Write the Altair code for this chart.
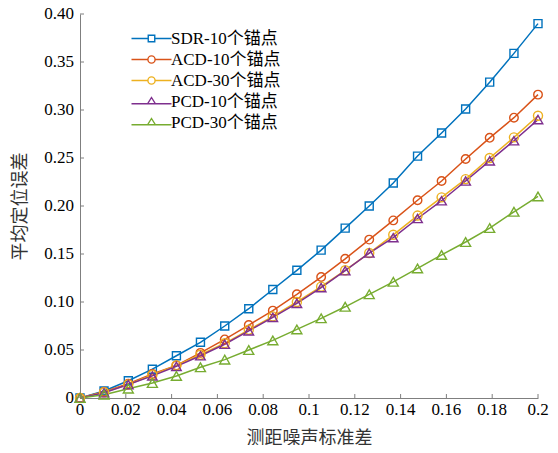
import altair as alt
import pandas as pd

noise = [0, 0.0105, 0.0211, 0.0316, 0.0421, 0.0526, 0.0632, 0.0737, 0.0842, 0.0947,
         0.1053, 0.1158, 0.1263, 0.1368, 0.1474, 0.1579, 0.1684, 0.1789, 0.1895, 0.2]
series_names = ["SDR-10个锚点", "ACD-10个锚点", "ACD-30个锚点", "PCD-10个锚点", "PCD-30个锚点"]
sdr10 = [0, 0.0073, 0.018, 0.030, 0.044, 0.058, 0.075, 0.093, 0.113, 0.133,
         0.154, 0.177, 0.200, 0.224, 0.252, 0.276, 0.301, 0.329, 0.359, 0.390]
acd10 = [0, 0.0066, 0.015, 0.025, 0.034, 0.047, 0.061, 0.076, 0.091, 0.108,
         0.126, 0.145, 0.165, 0.185, 0.206, 0.226, 0.249, 0.271, 0.292, 0.316]
acd30 = [0, 0.006, 0.014, 0.024, 0.034, 0.045, 0.057, 0.071, 0.085, 0.100,
         0.116, 0.133, 0.151, 0.170, 0.190, 0.209, 0.228, 0.250, 0.2715, 0.294]
pcd10 = [0, 0.0055, 0.014, 0.023, 0.033, 0.044, 0.056, 0.070, 0.084, 0.0986,
         0.115, 0.1326, 0.151, 0.167, 0.187, 0.2055, 0.226, 0.247, 0.268, 0.290]
pcd30 = [0, 0.0035, 0.0097, 0.0156, 0.023, 0.032, 0.040, 0.050, 0.060, 0.0715,
         0.083, 0.095, 0.108, 0.121, 0.135, 0.149, 0.1625, 0.177, 0.194, 0.210]
x_ticks = [0, 0.02, 0.04, 0.06, 0.08, 0.1, 0.12, 0.14, 0.16, 0.18, 0.2]
x_labels = ["0", "0.02", "0.04", "0.06", "0.08", "0.1", "0.12", "0.14", "0.16", "0.18", "0.2"]
y_ticks = [0, 0.05, 0.10, 0.15, 0.20, 0.25, 0.30, 0.35, 0.40]
y_labels = ["0", "0.05", "0.10", "0.15", "0.20", "0.25", "0.30", "0.35", "0.40"]

colors = ["#0072BD", "#D95319", "#EDB120", "#7E2F8E", "#77AC30"]
marker_shapes = ["square", "circle", "circle", "triangle-up", "triangle-up"]
legend_shapes = [
    "M-4,0H-0.65M0.65,0H4M-0.65,-0.65H0.65V0.65H-0.65Z",
    "M-4,0H-0.72M0.72,0H4M0.72,0A0.72,0.72 0 1,1 -0.72,0A0.72,0.72 0 1,1 0.72,0Z",
    "M-4,0H-0.72M0.72,0H4M0.72,0A0.72,0.72 0 1,1 -0.72,0A0.72,0.72 0 1,1 0.72,0Z",
    "M-4,0.45H-0.78M0.78,0.45H4M0,-0.8L0.78,0.45L-0.78,0.45Z",
    "M-4,0.45H-0.78M0.78,0.45H4M0,-0.8L0.78,0.45L-0.78,0.45Z",
]

rows = []
for name, vals in zip(series_names, [sdr10, acd10, acd30, pcd10, pcd30]):
    for xv, yv in zip(noise, vals):
        rows.append({"series": name, "noise": xv, "err": yv, "order": series_names.index(name)})
df = pd.DataFrame(rows)

FONT = "'Times New Roman', 'Liberation Serif', 'DejaVu Serif', 'Noto Sans CJK SC', serif"

axis_style = dict(ticks=False, grid=False, labels=False, domainColor="#7f7f7f",
                  titleFont=FONT, titleFontSize=18, titleColor="#333333",
                  titleFontWeight="normal")

x_enc = alt.X("noise:Q", scale=alt.Scale(domain=[0, 0.2], nice=False),
              axis=alt.Axis(values=x_ticks, title="测距噪声标准差",
                            titlePadding=31, **axis_style))
y_enc = alt.Y("err:Q", scale=alt.Scale(domain=[0, 0.4], nice=False),
              axis=alt.Axis(values=y_ticks, title="平均定位误差",
                            titlePadding=51, **axis_style))

color_noleg = alt.Color("series:N", scale=alt.Scale(domain=series_names, range=colors), legend=None)

base = alt.Chart(df)

lines = base.mark_line(strokeWidth=1.5).encode(
    x=x_enc, y=y_enc, color=color_noleg, order="order:Q"
)

points = base.mark_point(filled=False, strokeWidth=1.4, opacity=1).encode(
    x="noise:Q", y="err:Q",
    color=color_noleg,
    shape=alt.Shape("series:N", scale=alt.Scale(domain=series_names, range=marker_shapes), legend=None),
    size=alt.Size("series:N", scale=alt.Scale(domain=series_names, range=[64, 100, 100, 110, 110]), legend=None),
    order="order:Q",
)

legend_layer = base.transform_filter("datum.noise < 0").mark_point(
    filled=False, strokeWidth=1.4, size=100, opacity=1
).encode(
    x="noise:Q", y="err:Q",
    color=alt.Color("series:N", scale=alt.Scale(domain=series_names, range=colors),
                    legend=alt.Legend(title=None, orient="none", legendX=63, legendY=16,
                                      padding=0, symbolSize=100, symbolStrokeWidth=1.4,
                                      labelOffset=11, labelFontSize=17, labelFont=FONT,
                                      labelColor="black", rowPadding=3, labelLimit=300)),
    shape=alt.Shape("series:N", scale=alt.Scale(domain=series_names, range=legend_shapes)),
)

x_tick_df = pd.DataFrame({"noise": x_ticks, "label": x_labels})
y_tick_df = pd.DataFrame({"err": y_ticks, "label": y_labels})
xticks = alt.Chart(x_tick_df).mark_rule(color="#7f7f7f", strokeWidth=1).encode(
    x="noise:Q", y=alt.value(384), y2=alt.value(380)
)
yticks = alt.Chart(y_tick_df).mark_rule(color="#7f7f7f", strokeWidth=1).encode(
    y="err:Q", x=alt.value(0), x2=alt.value(4)
)
xlabels = alt.Chart(x_tick_df).mark_text(
    font=FONT, fontSize=17, color="black", align="center", baseline="top"
).encode(x="noise:Q", y=alt.value(388), text="label:N")
ylabels = alt.Chart(y_tick_df).mark_text(
    font=FONT, fontSize=17, color="black", align="right", baseline="middle"
).encode(y="err:Q", x=alt.value(-6), text="label:N")

chart = alt.layer(lines, points, legend_layer, xticks, yticks, xlabels, ylabels).resolve_scale(
    color="independent", shape="independent", size="independent"
).properties(
    width=458, height=384,
    autosize=alt.AutoSizeParams(type="none"),
    padding={"left": 72, "top": 6, "right": 12, "bottom": 47},
).configure_view(stroke=None).configure_axis(domainWidth=1)

chart.save("out.html", embed_options={"renderer": "svg", "actions": False})
